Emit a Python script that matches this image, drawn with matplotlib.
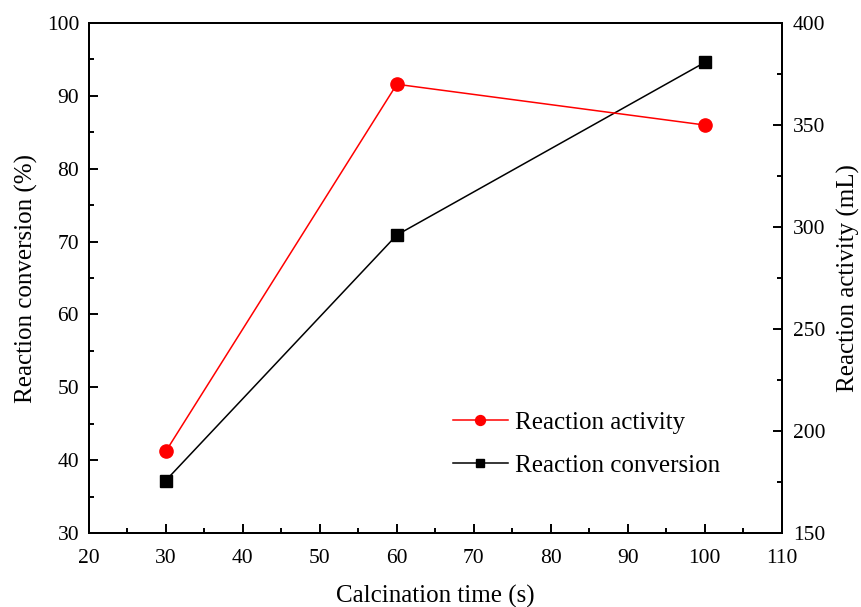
import matplotlib.pyplot as plt
from matplotlib.ticker import MultipleLocator

plt.rcParams['font.family'] = ['Liberation Serif', 'DejaVu Serif']

calc_time = [30, 60, 100]
conversion = [37.2, 70.9, 94.6]   # %, left axis
activity = [190, 370, 350]        # mL, right axis

fig = plt.figure(figsize=(8.62, 6.07), dpi=100)
ax = fig.add_axes([0.103, 0.122, 0.804, 0.840])
ax2 = ax.twinx()

l2, = ax2.plot(calc_time, activity, color='red', marker='o', markersize=9.5,
               linewidth=1.1, label='Reaction activity')
l1, = ax.plot(calc_time, conversion, color='black', marker='s', markersize=8.5,
              linewidth=1.1, label='Reaction conversion')

ax.set_xlim(20, 110)
ax.set_ylim(30, 100)
ax2.set_ylim(150, 400)
ax.xaxis.set_major_locator(MultipleLocator(10))
ax.xaxis.set_minor_locator(MultipleLocator(5))
ax.yaxis.set_major_locator(MultipleLocator(10))
ax.yaxis.set_minor_locator(MultipleLocator(5))
ax2.yaxis.set_major_locator(MultipleLocator(50))
ax2.yaxis.set_minor_locator(MultipleLocator(25))

for a in (ax, ax2):
    for s in a.spines.values():
        s.set_linewidth(1.4)
    a.tick_params(which='major', direction='in', length=6.8, width=1.4, labelsize=15.5)
    a.tick_params(which='minor', direction='in', length=3.3, width=1.4)
ax.tick_params(axis='y', which='both', right=False, pad=7)
ax.tick_params(axis='x', which='both', top=False, pad=11.5)
ax2.tick_params(axis='y', pad=8)

ax.set_xlabel('Calcination time (s)', fontsize=18, labelpad=12)
ax.set_ylabel('Reaction conversion (%)', fontsize=18, labelpad=6)
ax2.set_ylabel('Reaction activity (mL)', fontsize=18, labelpad=8.5)

ax2.legend([l2, l1], ['Reaction activity', 'Reaction conversion'],
           loc='center left', bbox_to_anchor=(0.5255, 0.2685),
           bbox_transform=fig.transFigure, frameon=False, borderpad=0,
           borderaxespad=0, fontsize=18, handlelength=2.2, handletextpad=0.3,
           labelspacing=0.8, markerscale=0.75)

fig.savefig('out.png', dpi=100)
